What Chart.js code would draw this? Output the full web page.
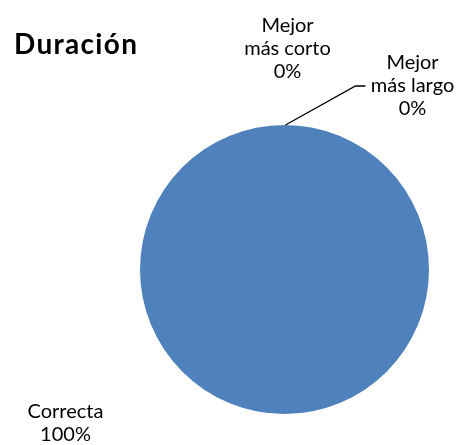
<!DOCTYPE html>
<html>
<head>
<meta charset="utf-8">
<style>
  html, body { margin: 0; padding: 0; background: #ffffff; }
  #wrap { width: 458px; height: 445px; position: relative; }
</style>
<script src="https://cdn.jsdelivr.net/npm/chart.js@4/dist/chart.umd.min.js"></script>
</head>
<body>
<div id="wrap"><canvas id="c" width="458" height="445"></canvas></div>
<script>
// Chart content
const chartTitle = 'Duración';
const categories = [['Correcta'], ['Mejor', 'más corto'], ['Mejor', 'más largo']];
const percentages = [100, 0, 0];
const sliceColors = ['#4F81BD', '#C0504D', '#9BBB59'];

const FONT = 'Lato, "Open Sans", "DejaVu Sans", sans-serif';

// Label anchors, given relative to the pie centre (dx, dy in px)
const labelPlacement = [
  { dx: -219, dy: 154 },   // Correcta (below-left)
  { dx: 3, dy: -221 },     // Mejor más corto (above the top)
  { dx: 128, dy: -184, leader: true } // Mejor más largo (with leader line)
];

const labelPlugin = {
  id: 'sliceLabels',
  afterDraw(chart) {
    const ctx = chart.ctx;
    const meta = chart.getDatasetMeta(0);
    const arc = meta.data[0];
    const cx = arc.x, cy = arc.y, r = arc.outerRadius;

    ctx.save();
    // Title
    ctx.fillStyle = '#000000';
    ctx.font = 'bold 28px ' + FONT;
    if ('letterSpacing' in ctx) ctx.letterSpacing = '1.3px';
    ctx.textAlign = 'left';
    ctx.textBaseline = 'middle';
    ctx.fillText(chartTitle, 14, 45);
    if ('letterSpacing' in ctx) ctx.letterSpacing = '0px';

    ctx.font = '20px ' + FONT;
    ctx.textAlign = 'center';
    const lineH = 23;
    categories.forEach((lines, i) => {
      const p = labelPlacement[i];
      const text = lines.concat([percentages[i] + '%']);
      const x = cx + p.dx;
      const y0 = cy + p.dy - (text.length - 1) * lineH / 2;
      text.forEach((t, k) => ctx.fillText(t, x, y0 + k * lineH));
      if (p.leader) {
        // Leader line from the top of the pie to the label
        ctx.strokeStyle = '#000000';
        ctx.lineWidth = 1.3;
        ctx.beginPath();
        ctx.moveTo(cx + 1, cy - r);
        ctx.lineTo(cx + 71, cy - r - 39);
        ctx.lineTo(cx + 81, cy - r - 39);
        ctx.stroke();
      }
    });
    ctx.restore();
  }
};

new Chart(document.getElementById('c'), {
  type: 'pie',
  data: {
    labels: categories.map(l => l.join(' ')),
    datasets: [{
      data: percentages,
      backgroundColor: sliceColors,
      borderWidth: 0
    }]
  },
  options: {
    responsive: false,
    animation: false,
    events: [],
    layout: { padding: { left: 140, right: 29, top: 125, bottom: 31 } },
    plugins: {
      legend: { display: false },
      title: { display: false },
      tooltip: { enabled: false }
    }
  },
  plugins: [labelPlugin]
});
</script>
</body>
</html>
